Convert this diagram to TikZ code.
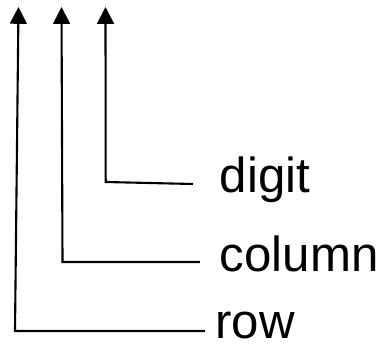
\documentclass[tikz,border=0pt]{standalone}
\usepackage{fontspec}
\setmainfont{Liberation Sans}
\usetikzlibrary{arrows.meta}
\tikzstyle{lbl}=[inner sep=0,anchor=base west,font=\fontsize{35}{38}\selectfont]
\tikzstyle{link}=[line width=1.5pt,-{Triangle[length=0.42cm,width=0.42cm]}]

\begin{document}
\begin{tikzpicture}
                        \useasboundingbox (0,0) rectangle (9.425,8.6);

                        \node[lbl] (row) at (5.375,0.125) {row};
                        \node[lbl] (column) at (5.4875,1.8) {column};
                        \node[lbl] (digit) at (5.4875,3.775) {digit};

                        \coordinate (re) at (5.125,0.325);
                        \coordinate (rc) at (0.375,0.325);
                        \coordinate (rt) at (0.4625,8.425);

                        \coordinate (ce) at (5.0,2.05);
                        \coordinate (cc) at (1.5625,2.05);
                        \coordinate (ct) at (1.5375,8.425);

                        \coordinate (de) at (4.825,4.0);
                        \coordinate (dc) at (2.6425,4.05);
                        \coordinate (dt) at (2.6375,8.425);

                        \draw[link] (re) -- (rc) -- (rt);
                        \draw[link] (ce) -- (cc) -- (ct);
                        \draw[link] (de) -- (dc) -- (dt);

\end{tikzpicture}
\end{document}
